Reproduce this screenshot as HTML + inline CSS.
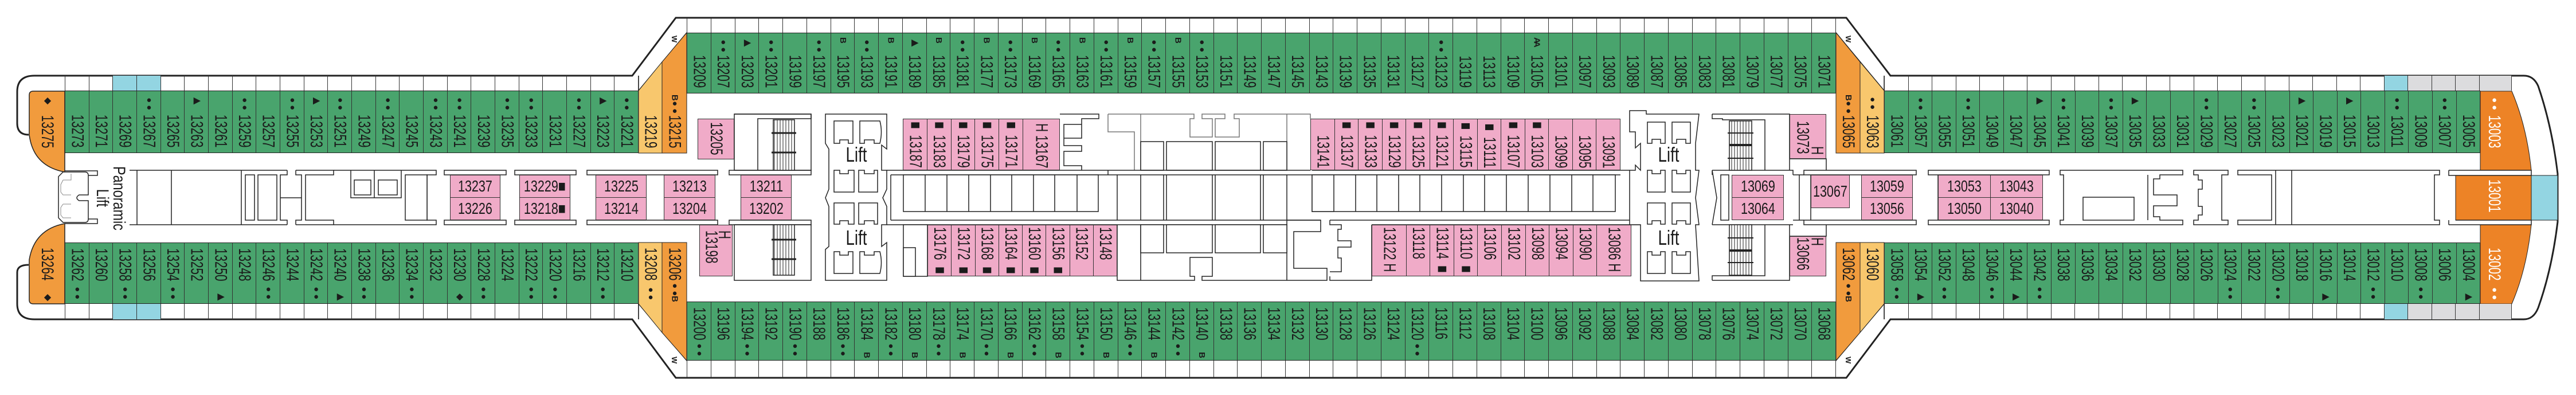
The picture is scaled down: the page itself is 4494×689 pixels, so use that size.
<!DOCTYPE html>
<html><head><meta charset="utf-8">
<style>
*{box-sizing:border-box}
body{margin:0;width:4494px;height:689px;position:relative;overflow:hidden;background:#fff;font-family:"Liberation Sans",sans-serif;color:#1b1b1b}
svg{position:absolute;left:0;top:0}
.r{position:absolute;display:flex;border-right:1px solid #333}
.r>div{flex:1;position:relative;border-left:1px solid #333}
.g{border-top:1.5px solid #222;border-bottom:1.5px solid #222}
.g>div{background:#49a46d}
.p{border-top:1.5px solid #333;border-bottom:1.5px solid #333}
.p>div{background:#f0abc8}
.c{background:#93d5e2}.y{background:#dcdcde}
.x{position:absolute}
.r span,.x span{position:absolute;left:50%;writing-mode:vertical-rl;font-size:30px;line-height:30px;white-space:nowrap}
.t span{bottom:9px;transform:translateX(-50%) scaleY(.69);transform-origin:50% 100%}
.b span{top:9px;transform:translateX(-50%) scaleY(.69);transform-origin:50% 0}
.pt span{bottom:3px}
.pb span{top:3px}
.r b,.x b{position:absolute;left:50%;transform:translateX(-50%);writing-mode:vertical-rl;font-size:15px;line-height:16px;letter-spacing:-4px;font-weight:bold;white-space:nowrap}
.t b{top:7px}.b b{bottom:7px}
.h{position:absolute;background:#f0abc8;border:1px solid #333;display:flex;align-items:center;justify-content:center;font-size:28px;line-height:28px}
.h i{font-style:normal;display:inline-block;transform:scaleX(.77)}
.lift{position:absolute;font-size:36px;line-height:36px;transform:translate(-50%,-50%) scaleX(.77)}
.wt span,.wt b{color:#fff}
</style></head><body>
<svg width="4494" height="689" viewBox="0 0 4494 689">
<defs>
<pattern id="st" width="5" height="10" patternUnits="userSpaceOnUse"><rect width="5" height="10" fill="#fff"/><line x1="1" y1="0" x2="1" y2="10" stroke="#222" stroke-width="1"/></pattern>
</defs>
<path d="M50,235 Q30,235 30,215 L30,160 Q30,132 60,132 L1103,132 L1179,31 L3221,31 L3298,132 L4403,132 Q4420,132 4428,150 Q4452,220 4462,303 L4462,387 Q4452,470 4428,537 Q4420,557 4403,557 L3298,557 L3221,659 L1179,659 L1103,557 L60,557 Q30,557 30,530 L30,475 Q30,462 50,462" fill="none" stroke="#222" stroke-width="3"/>
<g stroke="#222" stroke-width="1.5" fill="none">
<line x1="1114" y1="158" x2="1198" y2="57"/><line x1="1114" y1="530" x2="1198" y2="629"/>
<line x1="3203" y1="57" x2="3287" y2="158"/><line x1="3203" y1="629" x2="3287" y2="530"/>
<line x1="1114" y1="132" x2="1114" y2="158"/><line x1="1114" y1="530" x2="1114" y2="557"/>
<line x1="3287" y1="132" x2="3287" y2="158"/><line x1="3287" y1="530" x2="3287" y2="557"/>
</g>
<g font-family="Liberation Sans" font-weight="bold" font-size="13" fill="#222">
<text transform="translate(1172,62) rotate(90)">W</text>
<text transform="translate(1172,622) rotate(90)">W</text>
<text transform="translate(3220,62) rotate(90)">W</text>
<text transform="translate(3220,622) rotate(90)">W</text>
</g>
<g stroke="#222" stroke-width="1">
<polygon points="1114,158 1155,108 1155,267 1114,267" fill="#f8c76d"/>
<polygon points="1155,108 1198,57 1198,267 1155,267" fill="#f19b3d"/>
<polygon points="1114,423 1155,423 1155,580 1114,530" fill="#f8c76d"/>
<polygon points="1155,423 1198,423 1198,629 1155,580" fill="#f19b3d"/>
<polygon points="3203,57 3245,108 3245,267 3203,267" fill="#f19b3d"/>
<polygon points="3245,108 3287,158 3287,267 3245,267" fill="#f8c76d"/>
<polygon points="3203,423 3245,423 3245,580 3203,629" fill="#f19b3d"/>
<polygon points="3245,423 3287,423 3287,530 3245,580" fill="#f8c76d"/>
<path d="M51,166 Q51,159 58,159 L113,159 L113,300 Q58,290 51,235 Z" fill="#f19b3d" stroke-width="1.5"/>
<path d="M113,390 L113,530 L58,530 Q51,530 51,523 L51,453 Q60,400 113,390 Z" fill="#f19b3d" stroke-width="1.5"/>
<path d="M4327,159 L4382,159 Q4408,220 4416,297 L4327,297 Z" fill="#ed8326"/>
<rect x="4284" y="306" width="132" height="78" fill="#ed8326"/>
<rect x="4416" y="306" width="46" height="78" fill="#93d5e2"/>
<path d="M4327,392 L4416,392 Q4408,470 4382,530 L4327,530 Z" fill="#ed8326"/>
</g>
<g stroke="#222" stroke-width="1.5" fill="#fff">
<path d="M4272,297 H4416 V306 H4284 M4272,297 V306 H4284 M4272,392 H4416 V384 H4284 M4272,392 V384" fill="none"/>
<path d="M113,298 H170 V306 H154 M113,390 H170 V382 H154" fill="none"/>
<path d="M110,300 L148,300 Q154,300 154,306 L154,340 L138,340 Q130,345 138,350 L154,350 L154,382 Q154,388 148,388 L110,388 L102,380 L102,308 Z"/>
<path d="M110,314 H124 V303 M110,314 L106,322 V335 L110,340 H124 M110,356 H124 M110,356 L106,362 V375 L110,380 H124" fill="none" stroke="#888" stroke-width="1"/>
<path d="M226,297 H501 M226,392 H501 M239,297 V392 M299,297 V392 M421,297 V392" fill="none"/>
<rect x="428" y="305" width="16" height="79"/><rect x="450" y="305" width="33" height="79"/>
<path d="M501,297 V305 H489 V384 H501 V392 M489,345 H526 M516,297 V305 H526 V384 H516 V392 M516,297 H582 V305 H533 V384 H582 V392 H516" fill="none"/>
<path d="M582,297 H761 V305 H745 V384 H761 V392 H582 M612,297 V345 H700 V297 M653,297 V345 M700,345 H612" fill="none"/>
<rect x="618" y="314" width="29" height="26"/><rect x="660" y="314" width="33" height="26"/>
<rect x="707" y="305" width="38" height="79"/>
<path d="M775,297 H883 V305 H775 Z M775,384 H883 V392 H775 Z M898,297 H1005 V305 H898 Z M898,384 H1005 V392 H898 Z M1024,297 H1252 V305 H1024 Z M1024,384 H1252 V392 H1024 Z M1272,297 H1415 V305 H1272 Z M1272,384 H1415 V392 H1272 Z"/>
<rect x="1281" y="199" width="134" height="98" fill="none"/>
<rect x="1281" y="392" width="134" height="97" fill="none"/>
<path d="M1281,199 H1415 V207 H1322 V297" fill="none"/>
<rect x="1349" y="209" width="37" height="88" fill="url(#st)"/>
<rect x="1349" y="392" width="37" height="88" fill="url(#st)"/>
<path d="M1346,232 H1389 M1346,266 H1389 M1346,418 H1389 M1346,452 H1389" stroke-width="3"/>
<path d="M1440,199 H1547 V260 L1538,253 V297 L1547,297 V330 L1540,345 L1547,360 V392 L1538,392 V430 L1547,423 V489 H1440 V435 L1446,430 V360 L1440,345 L1446,330 V260 L1440,250 Z"/>
<g fill="none"><path d="M1455,211 H1488 V250 H1480 V244 H1465 V250 H1455 Z M1500,211 H1535 Q1540,230 1535,250 H1525 V244 H1508 V250 H1500 Z M1455,297 H1465 V303 H1480 V297 H1490 V335 H1455 Z M1498,297 H1508 V303 H1525 V297 H1531 V335 H1498 Z M1455,354 H1490 V391 H1480 V385 H1465 V391 H1455 Z M1498,354 H1531 V391 H1525 V385 H1508 V391 H1498 Z M1455,439 H1465 V445 H1480 V439 H1488 V477 H1455 Z M1500,439 H1508 V445 H1525 V439 H1535 Q1540,458 1535,477 H1500 Z"/></g>
<path d="M1547,297 H1933 M1554,305 H2245 M1554,305 V384 M1547,392 H2245 M1554,384 H2245" fill="none"/>
<rect x="1576" y="305" width="340" height="64"/>
<path d="M1614,305 V369 M1652,305 V369 M1690,305 V369 M1728,305 V369 M1765,305 V369 M1803,305 V369 M1840,305 V369 M1879,305 V369" fill="none"/>
<rect x="1576" y="392" width="42" height="90"/>
<rect x="1576" y="432" width="21" height="50"/>
<path d="M1849,199 H1917 V207 H1887 V241 H1856 V254 H1887 V264 H1856 V289 H1887 V297 M1887,207 V217 H1856 V244" fill="none"/>
<path d="M1933,199 H2083 V207 H2076 V239 H2115 V207 H2097 V199 H2137 V207 H2120 V239 H2162 V207 H2153 V199 H2286 V207 M1933,199 V230 H1979 V297 M1990,199 V297 M2245,199 V297" fill="none" stroke="#777"/>
<rect x="1990" y="247" width="40" height="50"/><rect x="2035" y="247" width="80" height="50"/><rect x="2120" y="247" width="79" height="50"/><rect x="2204" y="247" width="41" height="50"/>
<path d="M1933,297 H2286 M1933,305 V297 M1949,305 V384 M1990,305 V384 M2030,305 V384 M2035,305 V384 M2115,305 V384 M2120,305 V384 M2199,305 V384 M2204,305 V384 M2245,305 V489 M2245,305 H2289 V369 H2327 M2289,305 H2827 M2245,384 H2304" fill="none"/>
<rect x="2289" y="305" width="529" height="64"/>
<path d="M2327,305 V369 M2365,305 V369 M2402,305 V369 M2440,305 V369 M2477,305 V369 M2515,305 V369 M2553,305 V369 M2590,305 V369 M2628,305 V369 M2666,305 V369 M2704,305 V369 M2742,305 V369 M2779,305 V369" fill="none"/>
<path d="M1949,392 V489 H2084 V482 H2076 V449 H2115 V482 H2097 V489 H2245 M1990,392 V489" fill="none"/>
<rect x="1990" y="392" width="40" height="49"/><rect x="2035" y="392" width="80" height="49"/><rect x="2120" y="392" width="79" height="49"/><rect x="2204" y="392" width="41" height="49"/>
<path d="M2245,384 H2304 V404 H2257 V468 H2315 V489 H2245" fill="none"/>
<path d="M2320,384 H2868 V392 H2393 M2320,384 V392 H2340 V400 H2334 V420 H2357 V431 H2334 V450 H2340 V474 H2320 M2393,392 V489 H2320 V482" fill="none"/>
<path d="M2827,297 H2843 M2289,297 H2827" fill="none"/>
<path d="M2843,193 H2872 V199 H2964 L2958,250 V297 H2964 L2958,345 L2964,392 H2958 L2964,490 H2862 V392 H2843 V297 H2853 L2853,288 L2862,297 V250 L2853,258 V230 L2843,230 Z"/>
<g fill="none"><path d="M2874,213 H2905 V250 H2897 V243 H2882 V250 H2874 Z M2917,213 H2949 V250 H2941 V243 H2925 V250 H2917 Z M2874,297 H2882 V303 H2897 V297 H2905 V335 H2874 Z M2917,297 H2925 V303 H2941 V297 H2949 V335 H2917 Z M2874,354 H2905 V391 H2897 V385 H2882 V391 H2874 Z M2917,354 H2949 V391 H2941 V385 H2925 V391 H2917 Z M2874,439 H2882 V445 H2897 V439 H2905 V477 H2874 Z M2917,439 H2925 V445 H2941 V439 H2949 V477 H2917 Z"/></g>
<path d="M2987,199 H3122 V297 M2987,199 V207 H3005 V209 H3079 V297 M2987,297 H3128 V305 M2987,392 H3128 M2987,489 H3122 V392 M2987,489 V481 H3005 M3079,392 V481 H3005" fill="none"/>
<rect x="3017" y="211" width="39" height="86" fill="url(#st)"/>
<rect x="3017" y="392" width="39" height="88" fill="url(#st)"/>
<path d="M3014,232 H3059 M3014,276 H3059 M3014,415 H3059 M3014,458 H3059" stroke-width="2"/>
<path d="M3017,253 H3056 M3017,437 H3056" stroke-width="4"/>
<path d="M2987,297 L2995,345 L2987,392 M2987,297 V305 M3002,305 H3016 V384 H3002 Z M3139,305 V384 M3128,305 H3147 M3128,384 H3147" fill="none"/>
<path d="M3147,297 H3343 V305 H3147 Z M3147,384 H3343 V392 H3147 Z M3159,305 V384 M3364,297 H3575 V305 H3364 Z M3364,384 H3575 V392 H3364 Z M3381,305 V384"/>
<path d="M3122,277 H3186 V297 M3122,412 H3186 V392" fill="none"/>
<path d="M3594,297 H3808 V305 H3768 V312 H3757 V340 H3798 V359 H3757 V378 H3768 V384 H3808 V392 H3594 V384 H3600 V305 H3594 Z M3747,305 V384" />
<rect x="3634" y="344" width="89" height="40"/>
<path d="M3827,297 H3887 V305 H3876 V384 H3887 V392 H3827 V384 H3835 V375 H3842 V360 H3835 V330 H3842 V314 H3835 V305 H3827 Z"/>
<path d="M3904,297 H4256 V305 H4247 V384 H4256 V392 H3904 V384 H3963 V305 H3904 Z M3970,297 V392 M3998,297 V392"/>
</g>
</svg>

<div class="r" style="left:113px;top:132px;width:1001px;height:26px"><div></div><div></div><div class="c"></div><div class="c"></div><div></div><div></div><div></div><div></div><div></div><div></div><div></div><div></div><div></div><div></div><div></div><div></div><div></div><div></div><div></div><div></div><div></div><div></div><div></div><div></div></div>
<div class="r" style="left:113px;top:530px;width:1001px;height:27px"><div></div><div></div><div class="c"></div><div class="c"></div><div></div><div></div><div></div><div></div><div></div><div></div><div></div><div></div><div></div><div></div><div></div><div></div><div></div><div></div><div></div><div></div><div></div><div></div><div></div><div></div></div>
<div class="r" style="left:1198px;top:32px;width:2005px;height:25px"><div></div><div></div><div></div><div></div><div></div><div></div><div></div><div></div><div></div><div></div><div></div><div></div><div></div><div></div><div></div><div></div><div></div><div></div><div></div><div></div><div></div><div></div><div></div><div></div><div></div><div></div><div></div><div></div><div></div><div></div><div></div><div></div><div></div><div></div><div></div><div></div><div></div><div></div><div></div><div></div><div></div><div></div><div></div><div></div><div></div><div></div><div></div><div></div></div>
<div class="r" style="left:1198px;top:629px;width:2005px;height:29px"><div></div><div></div><div></div><div></div><div></div><div></div><div></div><div></div><div></div><div></div><div></div><div></div><div></div><div></div><div></div><div></div><div></div><div></div><div></div><div></div><div></div><div></div><div></div><div></div><div></div><div></div><div></div><div></div><div></div><div></div><div></div><div></div><div></div><div></div><div></div><div></div><div></div><div></div><div></div><div></div><div></div><div></div><div></div><div></div><div></div><div></div><div></div><div></div></div>
<div class="r" style="left:3287px;top:132px;width:1095px;height:26px"><div></div><div></div><div></div><div></div><div></div><div></div><div></div><div></div><div></div><div></div><div></div><div></div><div></div><div></div><div></div><div></div><div></div><div></div><div></div><div></div><div></div><div class="c"></div><div class="y"></div><div class="y"></div><div class="y"></div><div class="y" style="flex:1.37"></div></div>
<div class="r" style="left:3287px;top:530px;width:1095px;height:27px"><div></div><div></div><div></div><div></div><div></div><div></div><div></div><div></div><div></div><div></div><div></div><div></div><div></div><div></div><div></div><div></div><div></div><div></div><div></div><div></div><div></div><div class="c"></div><div class="y"></div><div class="y"></div><div class="y"></div><div class="y" style="flex:1.37"></div></div>

<div class="r g t" style="left:113px;top:158px;width:1001px;height:109px"><div><span>13273</span></div><div><span>13271</span></div><div><span>13269</span></div><div><b>●●</b><span>13267</span></div><div><span>13265</span></div><div><b>▶</b><span>13263</span></div><div><span>13261</span></div><div><b>●●</b><span>13259</span></div><div><span>13257</span></div><div><b>●●</b><span>13255</span></div><div><b>▶</b><span>13253</span></div><div><b>●●</b><span>13251</span></div><div><span>13249</span></div><div><b>●●</b><span>13247</span></div><div><span>13245</span></div><div><b>●●</b><span>13243</span></div><div><b>●●</b><span>13241</span></div><div><span>13239</span></div><div><b>●●</b><span>13235</span></div><div><b>●●</b><span>13233</span></div><div><span>13231</span></div><div><b>●●</b><span>13227</span></div><div><b>▶</b><span>13223</span></div><div><b>●●</b><span>13221</span></div></div>
<div class="r g b" style="left:113px;top:423px;width:1001px;height:107px"><div><span>13262</span><b>●●</b></div><div><span>13260</span></div><div><span>13258</span><b>●●</b></div><div><span>13256</span></div><div><span>13254</span><b>●●</b></div><div><span>13252</span></div><div><span>13250</span><b>▶</b></div><div><span>13248</span></div><div><span>13246</span><b>●●</b></div><div><span>13244</span></div><div><span>13242</span><b>●●</b></div><div><span>13240</span><b>▶</b></div><div><span>13238</span><b>●●</b></div><div><span>13236</span></div><div><span>13234</span><b>●●</b></div><div><span>13232</span></div><div><span>13230</span><b>◆</b></div><div><span>13228</span><b>●●</b></div><div><span>13224</span></div><div><span>13222</span><b>●●</b></div><div><span>13220</span><b>●●</b></div><div><span>13216</span></div><div><span>13212</span><b>●●</b></div><div><span>13210</span></div></div>
<div class="r g t" style="left:1198px;top:57px;width:2005px;height:106px"><div><span>13209</span></div><div><b>●●</b><span>13207</span></div><div><b>▶</b><span>13203</span></div><div><b>●●</b><span>13201</span></div><div><span>13199</span></div><div><b>●●</b><span>13197</span></div><div><b>B</b><span>13195</span></div><div><b>●●</b><span>13193</span></div><div><b>B</b><span>13191</span></div><div><b>▶</b><span>13189</span></div><div><b>B</b><span>13185</span></div><div><b>●●</b><span>13181</span></div><div><b>B</b><span>13177</span></div><div><b>●●</b><span>13173</span></div><div><b>B</b><span>13169</span></div><div><b>●●</b><span>13165</span></div><div><b>B</b><span>13163</span></div><div><b>●●</b><span>13161</span></div><div><b>B</b><span>13159</span></div><div><b>●●</b><span>13157</span></div><div><b>B</b><span>13155</span></div><div><b>●●</b><span>13153</span></div><div><span>13151</span></div><div><span>13149</span></div><div><span>13147</span></div><div><span>13145</span></div><div><span>13143</span></div><div><span>13139</span></div><div><span>13135</span></div><div><span>13131</span></div><div><span>13127</span></div><div><b>●●</b><span>13123</span></div><div><span>13119</span></div><div><span>13113</span></div><div><span>13109</span></div><div><b>AA</b><span>13105</span></div><div><span>13101</span></div><div><span>13097</span></div><div><span>13093</span></div><div><span>13089</span></div><div><span>13087</span></div><div><span>13085</span></div><div><span>13083</span></div><div><span>13081</span></div><div><span>13079</span></div><div><span>13077</span></div><div><span>13075</span></div><div><span>13071</span></div></div>
<div class="r g b" style="left:1198px;top:526px;width:2005px;height:103px"><div><span>13200</span><b>●●</b></div><div><span>13196</span></div><div><span>13194</span><b>●●</b></div><div><span>13192</span></div><div><span>13190</span><b>●●</b></div><div><span>13188</span></div><div><span>13186</span><b>●●</b></div><div><span>13184</span><b>B</b></div><div><span>13182</span><b>●●</b></div><div><span>13180</span><b>B</b></div><div><span>13178</span><b>●●</b></div><div><span>13174</span><b>B</b></div><div><span>13170</span><b>●●</b></div><div><span>13166</span><b>B</b></div><div><span>13162</span><b>●●</b></div><div><span>13158</span><b>B</b></div><div><span>13154</span><b>●●</b></div><div><span>13150</span><b>B</b></div><div><span>13146</span><b>●●</b></div><div><span>13144</span><b>B</b></div><div><span>13142</span><b>●●</b></div><div><span>13140</span><b>B</b></div><div><span>13138</span></div><div><span>13136</span></div><div><span>13134</span></div><div><span>13132</span></div><div><span>13130</span></div><div><span>13128</span></div><div><span>13126</span></div><div><span>13124</span></div><div><span>13120</span><b>●●</b></div><div><span>13116</span></div><div><span>13112</span></div><div><span>13108</span></div><div><span>13104</span></div><div><span>13100</span></div><div><span>13096</span></div><div><span>13092</span></div><div><span>13088</span></div><div><span>13084</span></div><div><span>13082</span></div><div><span>13080</span></div><div><span>13078</span></div><div><span>13076</span></div><div><span>13074</span></div><div><span>13072</span></div><div><span>13070</span></div><div><span>13068</span></div></div>
<div class="r g t" style="left:3287px;top:158px;width:1040px;height:109px"><div><span>13061</span></div><div><b>●●</b><span>13057</span></div><div><span>13055</span></div><div><b>●●</b><span>13051</span></div><div><span>13049</span></div><div><span>13047</span></div><div><b>▶</b><span>13045</span></div><div><b>●●</b><span>13041</span></div><div><span>13039</span></div><div><b>●●</b><span>13037</span></div><div><b>▶</b><span>13035</span></div><div><span>13033</span></div><div><span>13031</span></div><div><b>●●</b><span>13029</span></div><div><span>13027</span></div><div><b>●●</b><span>13025</span></div><div><span>13023</span></div><div><b>▶</b><span>13021</span></div><div><span>13019</span></div><div><b>▶</b><span>13015</span></div><div><span>13013</span></div><div><b>●●</b><span>13011</span></div><div><span>13009</span></div><div><b>●●</b><span>13007</span></div><div><span>13005</span></div></div>
<div class="r g b" style="left:3287px;top:423px;width:1040px;height:107px"><div><span>13058</span><b>●●</b></div><div><span>13054</span><b>▶</b></div><div><span>13052</span><b>●●</b></div><div><span>13048</span></div><div><span>13046</span><b>●●</b></div><div><span>13044</span><b>▶</b></div><div><span>13042</span><b>●●</b></div><div><span>13038</span></div><div><span>13036</span></div><div><span>13034</span></div><div><span>13032</span></div><div><span>13030</span></div><div><span>13028</span></div><div><span>13026</span></div><div><span>13024</span><b>●●</b></div><div><span>13022</span></div><div><span>13020</span><b>●●</b></div><div><span>13018</span></div><div><span>13016</span><b>▶</b></div><div><span>13014</span></div><div><span>13012</span><b>●●</b></div><div><span>13010</span></div><div><span>13008</span><b>●●</b></div><div><span>13006</span></div><div><span>13004</span><b>▶</b></div></div>

<div class="x t" style="left:51px;top:159px;width:62px;height:108px"><b>◆</b><span>13275</span></div>
<div class="x b" style="left:51px;top:423px;width:62px;height:107px"><span>13264</span><b>◆</b></div>
<div class="x t" style="left:1114px;top:158px;width:41px;height:109px"><span>13219</span></div>
<div class="x t" style="left:1155px;top:158px;width:43px;height:109px"><b>B●●</b><span>13215</span></div>
<div class="x b" style="left:1114px;top:423px;width:41px;height:107px"><span>13208</span><b>●●</b></div>
<div class="x b" style="left:1155px;top:423px;width:43px;height:107px"><span>13206</span><b>●●B</b></div>
<div class="x t" style="left:3203px;top:158px;width:42px;height:109px"><b>B●●</b><span>13065</span></div>
<div class="x t" style="left:3245px;top:158px;width:42px;height:109px"><b>●●</b><span>13063</span></div>
<div class="x b" style="left:3203px;top:423px;width:42px;height:107px"><span>13062</span><b>●●B</b></div>
<div class="x b" style="left:3245px;top:423px;width:42px;height:107px"><span>13060</span></div>
<div class="x t wt" style="left:4330px;top:159px;width:42px;height:108px"><b>●●</b><span>13003</span></div>
<div class="x b wt" style="left:4330px;top:306px;width:42px;height:78px"><span style="top:7px">13001</span></div>
<div class="x b wt" style="left:4330px;top:423px;width:42px;height:107px"><span>13002</span><b>●●</b></div>

<div class="x" style="left:163px;top:290px;width:60px;height:112px"><span style="writing-mode:vertical-rl;text-align:center;line-height:29px;height:143px;top:0;transform:translateX(-50%) scaleY(.78);transform-origin:50% 0">Panoramic<br>Lift</span></div>

<div class="r p t pt" style="left:1575px;top:207px;width:274px;height:90px"><div><span>■ 13187</span></div><div><span>■ 13183</span></div><div><span>■ 13179</span></div><div><span>■ 13175</span></div><div><span>■ 13171</span></div><div style="flex:1.55"><span>H 13167</span></div></div>
<div class="r p t pt" style="left:2286px;top:207px;width:541px;height:90px"><div><span>13141</span></div><div><span>■ 13137</span></div><div><span>■ 13133</span></div><div><span>■ 13129</span></div><div><span>■ 13125</span></div><div><span>■ 13121</span></div><div><span>■ 13115</span></div><div><span>■ 13111</span></div><div><span>■ 13107</span></div><div><span>■ 13103</span></div><div><span>13099</span></div><div><span>13095</span></div><div><span>13091</span></div></div>
<div class="r p b pb" style="left:1618px;top:392px;width:331px;height:90px"><div><span>13176 ■</span></div><div><span>13172 ■</span></div><div><span>13168 ■</span></div><div><span>13164 ■</span></div><div><span>13160 ■</span></div><div><span>13156 ■</span></div><div><span>13152</span></div><div><span>13148</span></div></div>
<div class="r p b pb" style="left:2393px;top:392px;width:453px;height:90px"><div style="flex:1.45"><span>13122 H</span></div><div><span>13118</span></div><div><span>13114 ■</span></div><div><span>13110 ■</span></div><div><span>13106</span></div><div><span>13102</span></div><div><span>13098</span></div><div><span>13094</span></div><div><span>13090</span></div><div style="flex:1.45"><span>13086 H</span></div></div>
<div class="r p b pb" style="left:1217px;top:207px;width:64px;height:71px"><div><span style="top:5px">13205</span></div></div>
<div class="r p b pb" style="left:1220px;top:392px;width:58px;height:90px"><div><span style="left:35%;top:9px">13198</span><span style="left:75%;top:9px">H</span></div></div>
<div class="r p b pb" style="left:3122px;top:199px;width:64px;height:78px"><div><span style="left:35%;top:11px">13073</span><span style="left:75%;top:55px">H</span></div></div>
<div class="r p b pb" style="left:3122px;top:412px;width:64px;height:70px"><div><span style="left:35%;top:1px">13066</span><span style="left:75%;top:1px">H</span></div></div>

<div class="h" style="left:785px;top:305px;width:88px;height:40px"><i>13237</i></div>
<div class="h" style="left:785px;top:344px;width:88px;height:40px"><i>13226</i></div>
<div class="h" style="left:906px;top:305px;width:89px;height:40px"><i>13229■</i></div>
<div class="h" style="left:906px;top:344px;width:89px;height:40px"><i>13218■</i></div>
<div class="h" style="left:1039px;top:305px;width:89px;height:40px"><i>13225</i></div>
<div class="h" style="left:1039px;top:344px;width:89px;height:40px"><i>13214</i></div>
<div class="h" style="left:1158px;top:305px;width:90px;height:40px"><i>13213</i></div>
<div class="h" style="left:1158px;top:344px;width:90px;height:40px"><i>13204</i></div>
<div class="h" style="left:1292px;top:305px;width:89px;height:40px"><i>13211</i></div>
<div class="h" style="left:1292px;top:344px;width:89px;height:40px"><i>13202</i></div>
<div class="h" style="left:3021px;top:305px;width:91px;height:40px"><i>13069</i></div>
<div class="h" style="left:3021px;top:344px;width:91px;height:40px"><i>13064</i></div>
<div class="h" style="left:3159px;top:305px;width:68px;height:58px"><i>13067</i></div>
<div class="h" style="left:3247px;top:305px;width:90px;height:40px"><i>13059</i></div>
<div class="h" style="left:3247px;top:344px;width:90px;height:40px"><i>13056</i></div>
<div class="h" style="left:3381px;top:305px;width:92px;height:40px"><i>13053</i></div>
<div class="h" style="left:3381px;top:344px;width:92px;height:40px"><i>13050</i></div>
<div class="h" style="left:3472px;top:305px;width:92px;height:40px"><i>13043</i></div>
<div class="h" style="left:3472px;top:344px;width:92px;height:40px"><i>13040</i></div>

<div class="lift" style="left:1494px;top:270px">Lift</div>
<div class="lift" style="left:1494px;top:415px">Lift</div>
<div class="lift" style="left:2911px;top:270px">Lift</div>
<div class="lift" style="left:2911px;top:415px">Lift</div>
</body></html>
